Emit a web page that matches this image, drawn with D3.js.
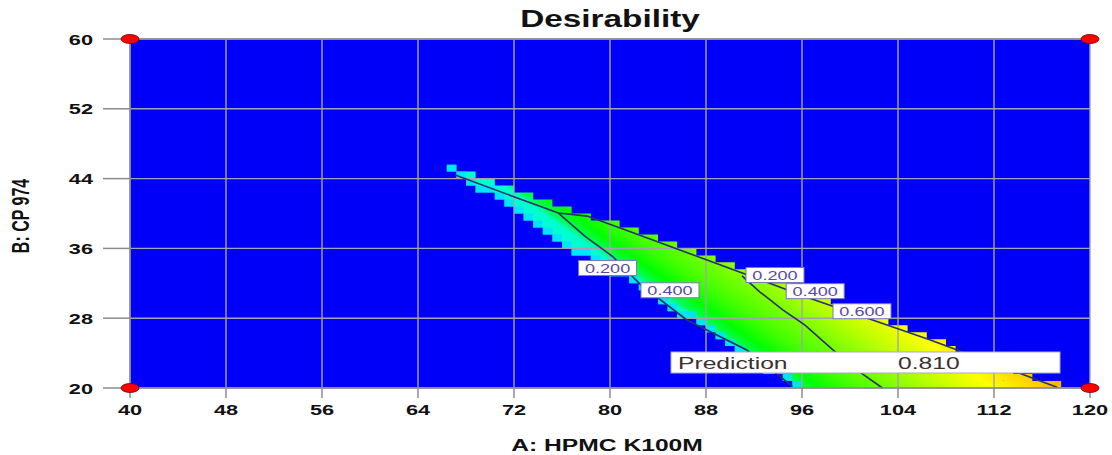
<!DOCTYPE html>
<html>
<head>
<meta charset="utf-8">
<script src="https://cdn.jsdelivr.net/npm/d3@7"></script>
<style>
  body { margin: 0; background: #fff; }
  text { font-family: "Liberation Sans", Arial, sans-serif; }
</style>
</head>
<body>
<div id="chart"></div>
<script>
// axis ticks
const xTicks = [40, 48, 56, 64, 72, 80, 88, 96, 104, 112, 120];
const yTicks = [20, 28, 36, 44, 52, 60];

// feasible region edges, [A, B]
const upperEdge = [[66.1, 45.7], [76.9, 40.5], [90.8, 33.75], [104.2, 27.0], [114.5, 21.6], [118.8, 20.0]];
const lowerEdge = [[66.4, 44.9], [71.9, 40.6], [76.9, 35.7], [81.1, 32.6], [83.9, 30.1], [88.1, 26.65], [90.25, 24.4], [93.9, 21.3], [95.4, 20.0]];

// desirability read along the bottom edge (B = 20)
const profileA = [86, 95.2, 96, 97.5, 100, 104, 108, 112, 115, 118.5];
const profileD = [0.25, 0.3, 0.42, 0.5, 0.56, 0.625, 0.69, 0.75, 0.785, 0.83];
const edgeD = 0.22;

// contour lines
const contourTop = [[67.1, 44.4], [75.7, 40.05], [78.1, 39.7], [81.7, 37.9], [90.8, 33.3], [96.4, 30.4], [106.7, 25.5], [117.25, 20.1]];
const contourLeft = [[75.7, 40.05], [77.9, 37.4], [80.2, 35.1], [82.5, 31.9], [86.4, 27.8], [91.4, 24.35], [95.2, 20.2]];
const contourRight = [[91.0, 32.85], [92.5, 31.0], [94.4, 28.95], [96.25, 27.2], [98.6, 24.35], [100.8, 21.85], [102.7, 20.0]];

// contour labels
const labelText = ["0.200", "0.400", "0.200", "0.400", "0.600"];
const labelA = [79.8, 85.0, 93.75, 97.1, 101.0];
const labelB = [33.75, 31.2, 32.95, 31.1, 28.8];

// prediction flag
const predA = 117.5, predB = 20, predValue = 0.810;

const width = 1112, height = 455;
const plot = { left: 130, right: 1090, top: 39, bottom: 388 };
const sx = 1.45; // horizontal stretch of all text

const x = d3.scaleLinear().domain([40, 120]).range([plot.left, plot.right]);
const y = d3.scaleLinear().domain([20, 60]).range([plot.bottom, plot.top]);
const color = d3.scaleLinear()
    .domain([0, 0.25, 0.5, 0.75, 1])
    .range(["#0000f8", "#00ffff", "#00ff00", "#ffff00", "#ff0000"]);

const svg = d3.select("#chart").append("svg")
    .attr("width", width)
    .attr("height", height);

function label(parent, px, py, str, size, weight, anchor, fill) {
    return parent.append("text")
        .attr("transform", `translate(${px},${py}) scale(${sx},1)`)
        .attr("text-anchor", anchor)
        .style("font-size", size + "px")
        .style("font-weight", weight)
        .style("fill", fill)
        .text(str);
}

// background (desirability 0)
svg.append("rect")
    .attr("x", plot.left).attr("y", plot.top)
    .attr("width", plot.right - plot.left).attr("height", plot.bottom - plot.top)
    .style("fill", color(0));

// gradient across the contours
const isoSlope = 0.7;
const gLen = Math.hypot(isoSlope, 1);
const gx = isoSlope / gLen, gy = -1 / gLen;
const proj = a => gx * x(a) + gy * y(20);
const p0 = proj(profileA[0]);
const pN = proj(profileA[profileA.length - 1]);
const defs = svg.append("defs");
const grad = defs.append("linearGradient")
    .attr("id", "desir")
    .attr("gradientUnits", "userSpaceOnUse")
    .attr("x1", x(profileA[0])).attr("y1", y(20))
    .attr("x2", x(profileA[0]) + gx * (pN - p0))
    .attr("y2", y(20) + gy * (pN - p0));
profileA.forEach((a, i) => {
    grad.append("stop")
        .attr("offset", (proj(a) - p0) / (pN - p0))
        .attr("stop-color", color(profileD[i]));
});

// region on the design grid
const polygon = upperEdge.concat(lowerEdge.slice().reverse());
const dA = 0.8, dB = 0.8;
const nA = Math.round(80 / dA), nB = Math.round(40 / dB);
const inside = (i, j) => i >= 0 && i < nA && j >= 0 && j < nB &&
    d3.polygonContains(polygon, [40 + (i + 0.5) * dA, 20 + (j + 0.5) * dB]);
let fillPath = "", edgePath = "";
for (let i = 0; i < nA; i++) {
    for (let j = 0; j < nB; j++) {
        if (!inside(i, j)) continue;
        const a0 = 40 + i * dA, b0 = 20 + j * dB;
        const rx = x(a0), ry = y(b0 + dB);
        const rw = x(a0 + dA) - rx, rh = y(b0) - ry;
        const cell = `M${rx},${ry}h${rw}v${rh}h${-rw}Z`;
        fillPath += cell;
        if (!inside(i - 1, j) || (j > 0 && !inside(i, j - 1))) edgePath += cell;
    }
}
svg.append("path").attr("d", fillPath).style("fill", "url(#desir)");
svg.append("path").attr("d", edgePath).style("fill", color(edgeD)).style("opacity", 0.85);

// grid
const grid = svg.append("g").style("stroke", "#a4a4b0").style("stroke-width", 1.4);
xTicks.forEach(t => grid.append("line")
    .attr("x1", x(t)).attr("x2", x(t)).attr("y1", plot.top).attr("y2", plot.bottom));
yTicks.forEach(t => grid.append("line")
    .attr("x1", plot.left).attr("x2", plot.right).attr("y1", y(t)).attr("y2", y(t)));

// contours
const line = d3.line().x(d => x(d[0])).y(d => y(d[1]));
[contourTop, contourLeft, contourRight].forEach(c => {
    svg.append("path")
        .attr("d", line(c))
        .style("fill", "none")
        .style("stroke", "#27336a")
        .style("stroke-width", 1.6);
});

// contour labels
labelText.forEach((t, i) => {
    const cx = x(labelA[i]), cy = y(labelB[i]);
    svg.append("rect")
        .attr("x", cx - 29).attr("y", cy - 7.5)
        .attr("width", 58).attr("height", 15)
        .style("fill", "#fff")
        .style("stroke", "#7c78b8")
        .style("stroke-width", 1);
    label(svg, cx, cy + 4.5, t, 12.5, "normal", "middle", "#5a4aa0");
});

// prediction box
const pbR = x(predA), pbB = y(predB) - 15;
svg.append("rect")
    .attr("x", 671).attr("y", pbB - 21)
    .attr("width", pbR - 671).attr("height", 21)
    .style("fill", "#fff")
    .style("stroke", "#a8a8c8")
    .style("stroke-width", 1);
label(svg, 678, pbB - 4.5, "Prediction", 17, "normal", "start", "#3a3030");
label(svg, 898, pbB - 4.5, predValue.toFixed(3), 17, "normal", "start", "#3a3030");

// axes
const axes = svg.append("g").style("stroke", "#8c8c8c").style("stroke-width", 1.5);
axes.append("line").attr("x1", plot.left).attr("x2", plot.left).attr("y1", plot.top).attr("y2", plot.bottom);
axes.append("line").attr("x1", plot.left).attr("x2", plot.right).attr("y1", plot.bottom).attr("y2", plot.bottom);
axes.append("line").attr("x1", plot.left).attr("x2", plot.right).attr("y1", plot.top).attr("y2", plot.top);
xTicks.forEach(t => axes.append("line")
    .attr("x1", x(t)).attr("x2", x(t)).attr("y1", plot.bottom).attr("y2", plot.bottom + 10));
yTicks.forEach(t => axes.append("line")
    .attr("x1", plot.left - 27).attr("x2", plot.left).attr("y1", y(t)).attr("y2", y(t)));

xTicks.forEach(t => label(svg, x(t), 415, t, 15, "bold", "middle", "#111"));
yTicks.forEach(t => label(svg, 93, y(t) + 5.5, t, 15, "bold", "end", "#111"));

// design-space corner points
[[40, 20], [40, 60], [120, 60], [120, 20]].forEach(d => {
    svg.append("ellipse")
        .attr("cx", x(d[0])).attr("cy", y(d[1]))
        .attr("rx", 9).attr("ry", 4.5)
        .style("fill", "#ff0000")
        .style("stroke", "#700")
        .style("stroke-width", 0.8);
});

// titles
label(svg, 610, 27, "Desirability", 23, "bold", "middle", "#111");
label(svg, 607, 451, "A: HPMC K100M", 17, "bold", "middle", "#111");
svg.append("text")
    .attr("transform", `translate(29,216) scale(${sx},1) rotate(-90)`)
    .attr("text-anchor", "middle")
    .style("font-size", "16px")
    .style("font-weight", "bold")
    .style("fill", "#111")
    .text("B: CP 974");
</script>
</body>
</html>
